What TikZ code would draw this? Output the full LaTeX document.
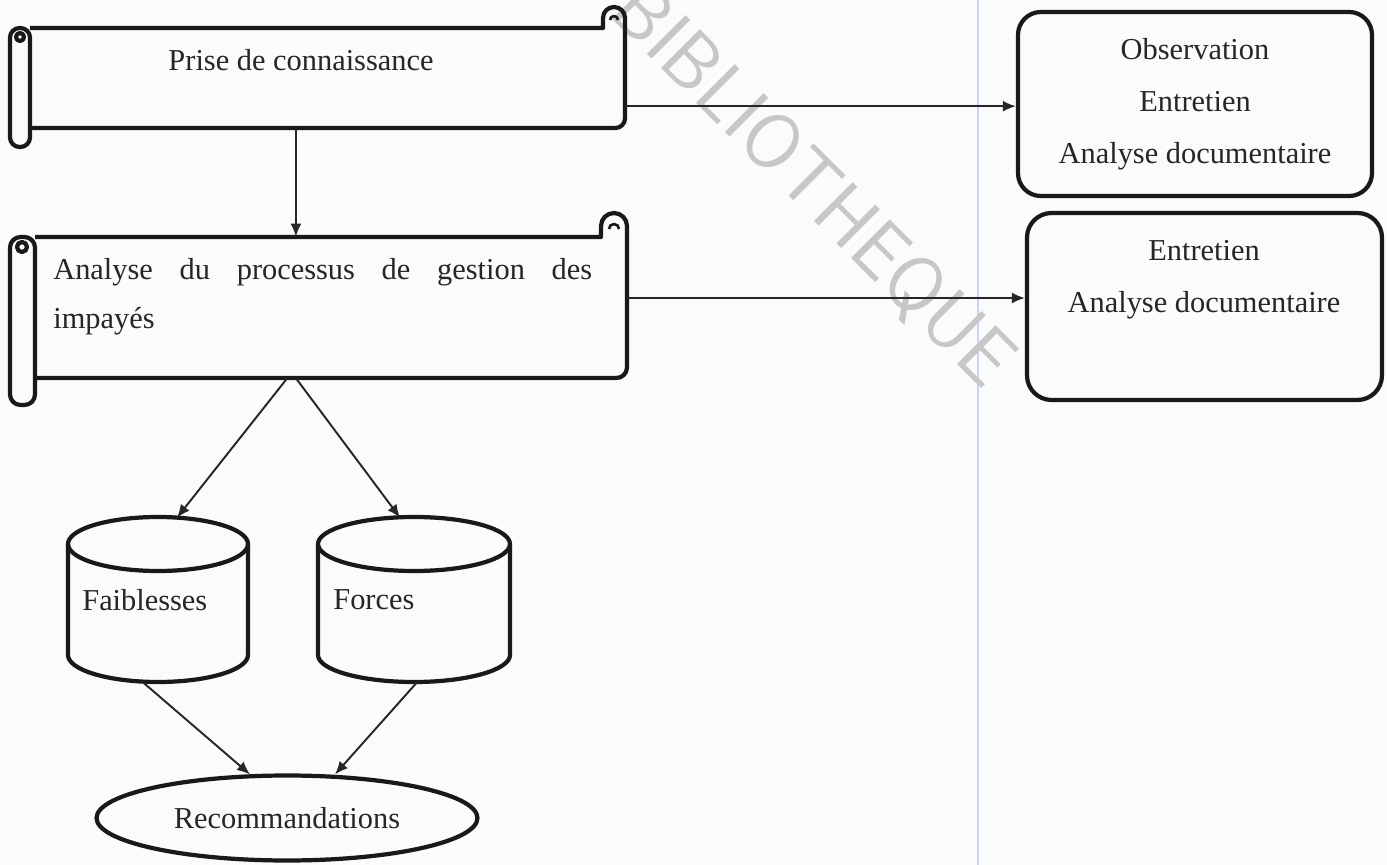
\documentclass[tikz,border=0pt]{standalone}
\usepackage{fontspec}
\setmainfont{Liberation Serif}
\usetikzlibrary{arrows.meta,shapes.geometric,fit,calc}
\definecolor{pageline}{RGB}{204,210,240}
\definecolor{paper}{RGB}{250,251,253}

\begin{document}
\begin{tikzpicture}[x=0.02cm, y=-0.02cm,
  every node/.style={text=black!85, font=\fontsize{17.3}{29.6}\selectfont, inner sep=0pt},
  thickline/.style={line width=2.4pt, line join=round, draw=black!90},
  arr/.style={line width=1.1pt, draw=black!85, -{Latex[length=0.26cm,width=0.22cm]}},
  frame/.style={fit={#1}, inner sep=0pt}]
\useasboundingbox (0,0) rectangle (1387,865);
\fill[paper] (0,0) rectangle (1387,865);

\draw[pageline, line width=1.2pt] (978,0) -- (978,865);
\node[text=black!22, font=\sffamily\fontsize{45}{45}\selectfont, rotate=-45] (wm) at (812,186) {BIBLIOTHEQUE};

% scroll 1
\draw[thickline, rounded corners=5.5pt] (10,28) rectangle (30,147);
\draw[thickline] (20,37) circle[radius=4];
\draw[thickline] (30,28) -- (603,28) -- (603,18) arc[start angle=180, end angle=360, radius=11] [rounded corners=5.5pt] -- (625,128) -- (30,128);
\draw[thickline, line width=1.5pt] (610,20) arc[start angle=180, end angle=360, radius=4];
\node[frame={(30,28) (625,128)}] (S1) {};
\node (t1) at (301,60) {Prise de connaissance};

% scroll 2
\draw[thickline, rounded corners=6pt] (10,237) rectangle (35,405);
\draw[thickline] (22,247) circle[radius=5];
\draw[thickline] (35,237) -- (601,237) -- (601,226) arc[start angle=180, end angle=360, radius=13] [rounded corners=6pt] -- (627,378) -- (35,378);
\draw[thickline, line width=1.5pt] (609,229) arc[start angle=180, end angle=360, radius=5];
\node[frame={(35,237) (627,378)}] (S2) {};
\node[anchor=north west, align=left, font=\fontsize{17.3}{28}\selectfont] (t2) at (53,258)
  {\makebox[10.78cm][s]{Analyse du processus de gestion des}\\impayés};

% boxes on the right
\node[thickline, rounded corners=13pt, frame={(1018,12) (1372,196)}] (B1) {};
\node[align=center] (t3) at (1195,104) {Observation\\Entretien\\Analyse documentaire};
\node[thickline, rounded corners=14pt, frame={(1027,213) (1382,400)}] (B2) {};
\node[align=center] (t4) at (1204,280) {Entretien\\Analyse documentaire};

% cylinders
\draw[thickline] (68,544) -- (68,655) arc[start angle=180, end angle=0, x radius=90, y radius=27] -- (248,544);
\draw[thickline] (158,544) ellipse[x radius=90, y radius=27];
\node[frame={(68,517) (248,682)}] (C1) {};
\node[anchor=west] (t5) at (82,600) {Faiblesses};

\draw[thickline] (318,544) -- (318,655) arc[start angle=180, end angle=0, x radius=96, y radius=27] -- (510,544);
\draw[thickline] (414,544) ellipse[x radius=96, y radius=27];
\node[frame={(318,517) (510,682)}] (C2) {};
\node[anchor=west] (t6) at (333,600) {Forces};

% ellipse
\node[ellipse, thickline, minimum width=7.62cm, minimum height=1.7cm] (E) at (287,818) {Recommandations};

% connectors
\coordinate (a1) at ($(S1.south west)!0.447!(S1.south east)$);
\coordinate (a2) at ($(S1.south east)!0.22!(S1.north east)$);
\coordinate (a3) at ($(S2.south east)!0.567!(S2.north east)$);
\draw[arr] (a1) -- (S2.north -| a1);
\draw[arr] (a2) -- (B1.west |- a2);
\draw[arr] (a3) -- (B2.west |- a3);
\draw[arr] ($(S2.south west)!0.426!(S2.south east)$) -- ($(C1.north)+(19,1)$);
\draw[arr] ($(S2.south west)!0.441!(S2.south east)$) -- ($(C2.north)+(-14,1)$);
\draw[arr] ($(C1.south)+(-15,0)$) -- ($(E.north)+(-37,1)$);
\draw[arr] ($(C2.south)+(3,0)$) -- ($(E.north)+(48,1)$);
\end{tikzpicture}
\end{document}
